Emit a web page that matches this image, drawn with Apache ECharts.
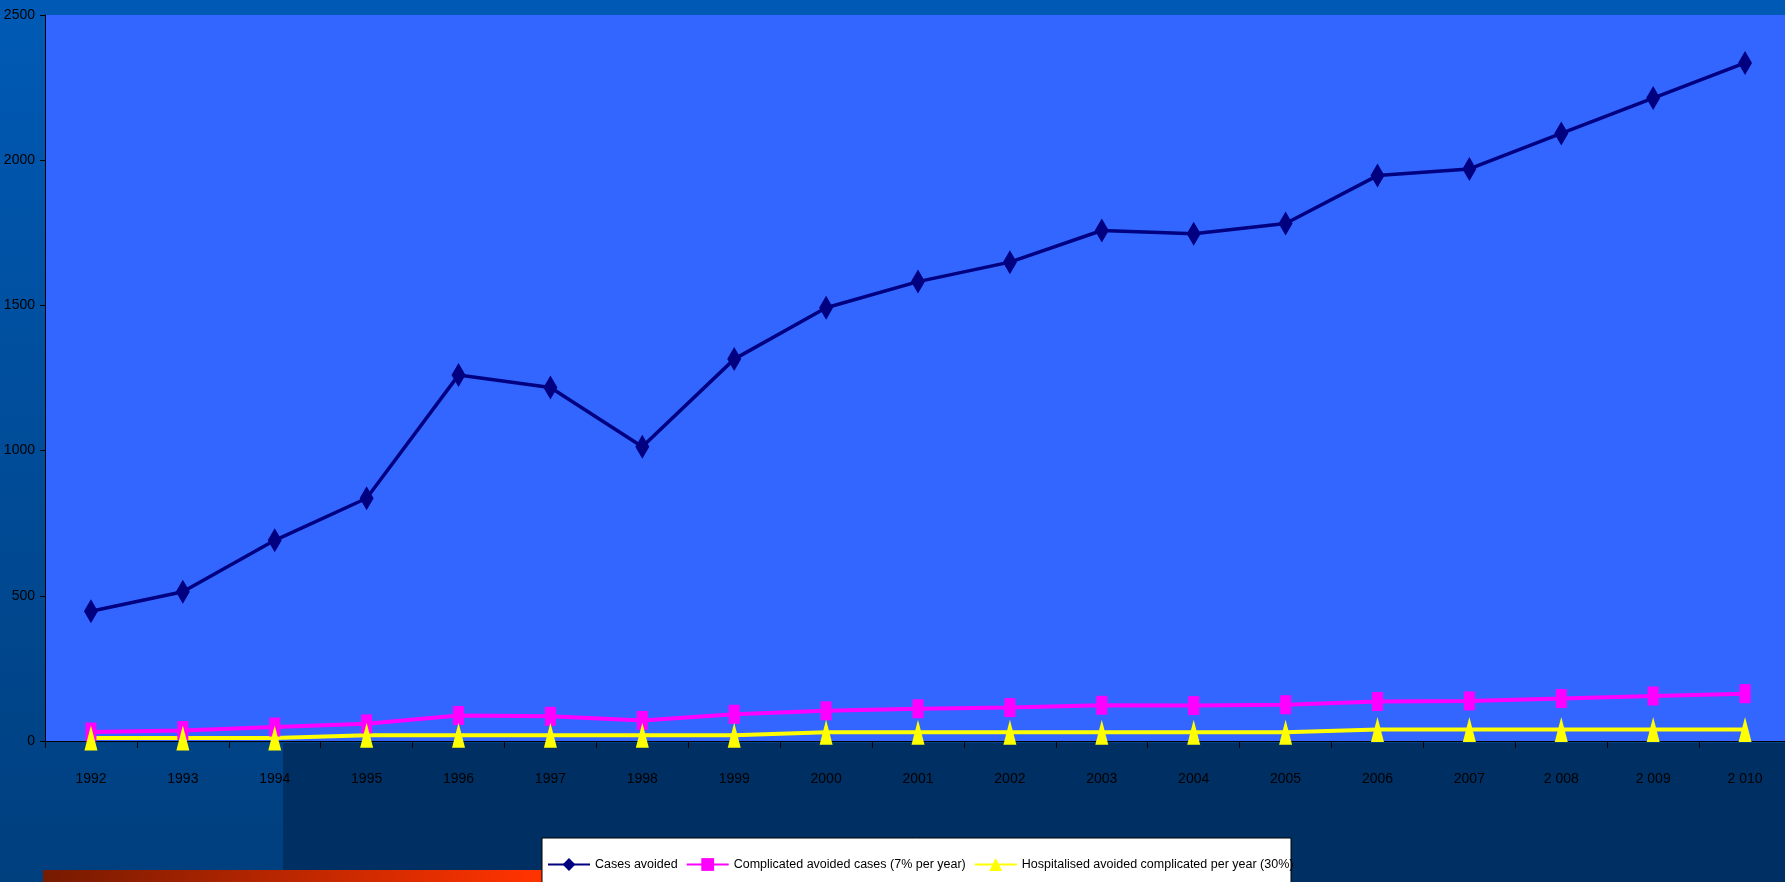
<!DOCTYPE html>
<html>
<head>
<meta charset="utf-8">
<style>
    html, body { margin: 0; padding: 0; }
    #chart { width: 1785px; height: 882px; }
</style>
<script src="https://cdn.jsdelivr.net/npm/echarts@6/dist/echarts.min.js"></script>
</head>
<body>
<div id="chart"></div>
<script>
    var years = ['1992', '1993', '1994', '1995', '1996', '1997', '1998', '1999', '2000', '2001',
        '2002', '2003', '2004', '2005', '2006', '2007', '2 008', '2 009', '2 010'];
    var casesAvoided = [447, 514, 691, 836, 1260, 1217, 1013, 1315, 1492, 1582,
        1649, 1758, 1747, 1782, 1947, 1970, 2092, 2214, 2335];
    var complicatedAvoided = [31, 36, 48, 59, 88, 85, 71, 92, 104, 111,
        115, 123, 122, 125, 136, 138, 146, 155, 163];
    var hospitalisedAvoided = [10, 10, 10, 20, 20, 20, 20, 20, 30, 30,
        30, 30, 30, 30, 40, 40, 40, 40, 40];
    var seriesNames = ['Cases avoided', 'Complicated avoided cases (7% per year)',
        'Hospitalised avoided complicated per year (30%)'];

    var font = "'Liberation Sans', Arial, sans-serif";
    var chart = echarts.init(document.getElementById('chart'));

    var option = {
        animation: false,
        graphic: {
            elements: [
                { // fond dégradé bleu
                    type: 'rect', z: -20, silent: true,
                    shape: {x: 0, y: 0, width: 1785, height: 882},
                    style: {
                        fill: new echarts.graphic.LinearGradient(0, 0, 0, 1, [
                            {offset: 0, color: '#005ab5'},
                            {offset: 1, color: '#003f7e'}
                        ])
                    }
                },
                {
                    type: 'rect', z: -19, silent: true,
                    shape: {x: 283, y: 743, width: 1502, height: 139},
                    style: {fill: '#003063'}
                },
                { // bande orange en bas
                    type: 'rect', z: -18, silent: true,
                    shape: {x: 43, y: 870, width: 650, height: 12},
                    style: {
                        fill: new echarts.graphic.LinearGradient(0, 0, 1, 0, [
                            {offset: 0, color: '#761a00'},
                            {offset: 0.75, color: '#ff3300'},
                            {offset: 1, color: '#ff3300'}
                        ])
                    }
                },
                { // cadre de la légende
                    type: 'rect', z: 3, silent: true,
                    shape: {x: 542, y: 838, width: 749, height: 50},
                    style: {fill: '#ffffff', stroke: '#000000', lineWidth: 1}
                }
            ]
        },
        grid: {
            show: true,
            left: 45,
            right: -6,
            top: 15,
            bottom: 141,
            containLabel: false,
            outerBoundsMode: 'none',
            backgroundColor: '#3366ff',
            borderWidth: 0
        },
        legend: {
            z: 10,
            left: 542,
            top: 853,
            itemGap: 8,
            itemWidth: 42,
            itemHeight: 16,
            textStyle: {color: '#000', fontSize: 12.5, fontFamily: font},
            data: seriesNames
        },
        xAxis: {
            type: 'category',
            data: years,
            boundaryGap: true,
            axisLine: {lineStyle: {color: '#000', width: 1}},
            axisTick: {show: true, length: 7, lineStyle: {color: '#000'}},
            axisLabel: {color: '#000', fontSize: 14, fontFamily: font, margin: 31}
        },
        yAxis: {
            type: 'value',
            min: 0,
            max: 2500,
            interval: 500,
            axisLine: {show: true, lineStyle: {color: '#000', width: 1}},
            axisTick: {show: true, length: 5, lineStyle: {color: '#000'}},
            axisLabel: {
                color: '#000', fontSize: 14, fontFamily: font, margin: 10,
                formatter: function (v) { return String(v); }
            },
            splitLine: {show: false}
        },
        series: [
            {
                name: seriesNames[0],
                type: 'line',
                data: casesAvoided,
                symbol: 'diamond',
                symbolSize: [14, 24],
                itemStyle: {color: '#000080'},
                lineStyle: {color: '#000080', width: 3.5}
            },
            {
                name: seriesNames[1],
                type: 'line',
                data: complicatedAvoided,
                symbol: 'rect',
                symbolSize: [11, 19],
                itemStyle: {color: '#ff00ff'},
                lineStyle: {color: '#ff00ff', width: 4}
            },
            {
                name: seriesNames[2],
                type: 'line',
                data: hospitalisedAvoided,
                symbol: 'triangle',
                symbolSize: [13, 25],
                itemStyle: {color: '#ffff00'},
                lineStyle: {color: '#ffff00', width: 4}
            }
        ]
    };
    chart.setOption(option);
</script>
</body>
</html>
